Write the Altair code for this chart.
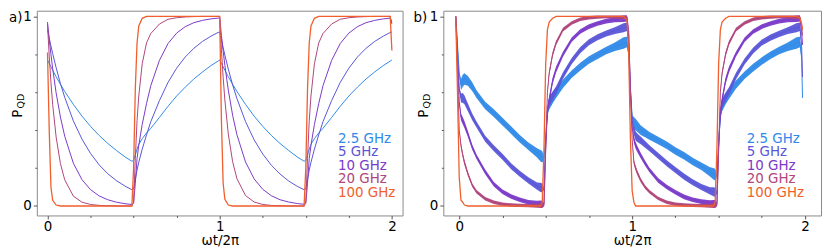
import altair as alt
import pandas as pd

FONT = "DejaVu Sans"

labels = ["2.5 GHz", "5 GHz", "10 GHz", "20 GHz", "100 GHz"]
colors = ["#2f8ae8", "#5a56d8", "#7b3ac8", "#b0467c", "#f05f2c"]

x_ticks = [0, 0.25, 0.5, 0.75, 1, 1.25, 1.5, 1.75, 2]
y_ticks = [0, 0.2, 0.4, 0.6, 0.8, 1]

# ---------------- panel a) ----------------
xa = [0, 0.01, 0.02, 0.03, 0.05, 0.075, 0.1, 0.15, 0.2, 0.25, 0.3, 0.35, 0.4, 0.45, 0.49, 0.5,
      0.51, 0.52, 0.53, 0.55, 0.575, 0.6, 0.65, 0.7, 0.75, 0.8, 0.85, 0.9, 0.95, 0.99,
      1.0, 1.01, 1.02, 1.03, 1.05, 1.075, 1.1, 1.15, 1.2, 1.25, 1.3, 1.35, 1.4, 1.45, 1.49, 1.5,
      1.51, 1.52, 1.53, 1.55, 1.575, 1.6, 1.65, 1.7, 1.75, 1.8, 1.85, 1.9, 1.95, 1.99, 2.0]

a_25 = [0.77, 0.752, 0.734, 0.716, 0.682, 0.642, 0.604, 0.536, 0.474, 0.42, 0.372, 0.33, 0.293, 0.259, 0.236, 0.24,
        0.27, 0.30, 0.325, 0.355, 0.385, 0.41, 0.467, 0.526, 0.58, 0.627, 0.67, 0.707, 0.741, 0.764,
        0.77, 0.752, 0.734, 0.716, 0.682, 0.642, 0.604, 0.536, 0.474, 0.42, 0.372, 0.33, 0.293, 0.259, 0.236, 0.24,
        0.27, 0.30, 0.325, 0.355, 0.385, 0.41, 0.467, 0.526, 0.58, 0.627, 0.67, 0.707, 0.741, 0.764, 0.77]
a_5 = [0.93, 0.886, 0.844, 0.804, 0.73, 0.646, 0.573, 0.449, 0.353, 0.277, 0.217, 0.17, 0.134, 0.105, 0.086, 0.09,
       0.14, 0.19, 0.23, 0.30, 0.375, 0.445, 0.556, 0.652, 0.727, 0.786, 0.832, 0.868, 0.896, 0.915,
       0.918, 0.876, 0.835, 0.796, 0.722, 0.639, 0.567, 0.445, 0.349, 0.274, 0.215, 0.169, 0.132, 0.104, 0.086, 0.09,
       0.14, 0.19, 0.23, 0.30, 0.375, 0.445, 0.556, 0.652, 0.727, 0.786, 0.832, 0.868, 0.896, 0.915, 0.918]
a_10 = [0.97, 0.88, 0.799, 0.725, 0.597, 0.469, 0.368, 0.226, 0.139, 0.086, 0.053, 0.033, 0.02, 0.012, 0.008, 0.015,
        0.12, 0.25, 0.32, 0.43, 0.54, 0.635, 0.768, 0.857, 0.912, 0.946, 0.967, 0.979, 0.987, 0.991,
        0.992, 0.9, 0.817, 0.742, 0.611, 0.479, 0.376, 0.232, 0.143, 0.088, 0.054, 0.033, 0.021, 0.013, 0.009, 0.015,
        0.12, 0.25, 0.32, 0.43, 0.54, 0.635, 0.768, 0.857, 0.912, 0.946, 0.967, 0.979, 0.987, 0.991, 0.97]
a_20 = [0.96, 0.791, 0.651, 0.536, 0.364, 0.224, 0.138, 0.052, 0.02, 0.008, 0.003, 0.001, 0.0, 0.0, 0.0, 0.02,
        0.25, 0.45, 0.58, 0.75, 0.86, 0.91, 0.96, 0.985, 0.993, 0.997, 0.999, 1.0, 1.0, 1.0,
        1.0, 0.824, 0.679, 0.559, 0.379, 0.234, 0.144, 0.055, 0.021, 0.008, 0.003, 0.001, 0.0, 0.0, 0.0, 0.02,
        0.25, 0.45, 0.58, 0.75, 0.86, 0.91, 0.96, 0.985, 0.993, 0.997, 0.999, 1.0, 1.0, 1.0, 0.96]
a_100 = [0.81, 0.4, 0.1, 0.03, 0.005, 0.0, 0.0, 0.0, 0.0, 0.0, 0.0, 0.0, 0.0, 0.0, 0.0, 0.2,
         0.62, 0.86, 0.95, 0.99, 1.0, 1.0, 1.0, 1.0, 1.0, 1.0, 1.0, 1.0, 1.0, 1.0,
         1.0, 0.45, 0.12, 0.035, 0.005, 0.0, 0.0, 0.0, 0.0, 0.0, 0.0, 0.0, 0.0, 0.0, 0.0, 0.2,
         0.62, 0.86, 0.95, 0.99, 1.0, 1.0, 1.0, 1.0, 1.0, 1.0, 1.0, 1.0, 1.0, 1.0, 0.82]

# ---------------- panel b) ----------------
xb = [-0.02, -0.01, 0.0, 0.01, 0.02, 0.03, 0.05, 0.075, 0.1, 0.15, 0.2, 0.25, 0.3, 0.35, 0.4, 0.45, 0.47, 0.48,
      0.49, 0.5, 0.51, 0.52, 0.54, 0.56, 0.6, 0.65, 0.7, 0.75, 0.8, 0.85, 0.9, 0.95, 0.97, 0.98, 0.99,
      1.0, 1.01, 1.02, 1.03, 1.05, 1.075, 1.1, 1.15, 1.2, 1.25, 1.3, 1.35, 1.4, 1.45, 1.47, 1.48, 1.49, 1.5,
      1.51, 1.52, 1.54, 1.56, 1.6, 1.65, 1.7, 1.75, 1.8, 1.85, 1.9, 1.95, 1.97, 1.98, 1.985]

b_25 = [1.0, 0.85, 0.70, 0.64, 0.66, 0.67, 0.66, 0.63, 0.59, 0.53, 0.49, 0.445, 0.40, 0.355, 0.315, 0.28, 0.265, 0.26,
        0.25, 0.35, 0.50, 0.54, 0.57, 0.595, 0.645, 0.695, 0.735, 0.77, 0.795, 0.82, 0.84, 0.86, 0.865, 0.8, 0.62,
        0.47, 0.44, 0.43, 0.42, 0.40, 0.385, 0.37, 0.345, 0.32, 0.29, 0.265, 0.235, 0.21, 0.18, 0.17, 0.165, 0.16, 0.33,
        0.48, 0.53, 0.565, 0.59, 0.64, 0.69, 0.73, 0.765, 0.795, 0.82, 0.84, 0.86, 0.865, 0.78, 0.57]
b_5 = [1.0, 0.82, 0.62, 0.57, 0.57, 0.56, 0.52, 0.47, 0.43, 0.355, 0.305, 0.26, 0.21, 0.17, 0.135, 0.105, 0.098, 0.095,
       0.09, 0.35, 0.5, 0.55, 0.58, 0.61, 0.688, 0.764, 0.822, 0.864, 0.89, 0.91, 0.925, 0.94, 0.945, 0.85, 0.6,
       0.45, 0.40, 0.37, 0.36, 0.345, 0.325, 0.305, 0.265, 0.225, 0.19, 0.155, 0.125, 0.10, 0.08, 0.075, 0.072, 0.07, 0.33,
       0.48, 0.54, 0.575, 0.605, 0.685, 0.762, 0.82, 0.862, 0.888, 0.908, 0.925, 0.94, 0.945, 0.84, 0.68]
b_10 = [1.0, 0.78, 0.55, 0.47, 0.45, 0.43, 0.38, 0.31, 0.26, 0.18, 0.115, 0.075, 0.05, 0.033, 0.02, 0.013, 0.011, 0.01,
        0.01, 0.3, 0.5, 0.56, 0.66, 0.72, 0.80, 0.877, 0.92, 0.946, 0.963, 0.975, 0.983, 0.989, 0.99, 0.9, 0.62,
        0.42, 0.35, 0.32, 0.30, 0.265, 0.225, 0.19, 0.135, 0.10, 0.072, 0.048, 0.033, 0.023, 0.016, 0.014, 0.013, 0.012, 0.3,
        0.5, 0.56, 0.66, 0.72, 0.80, 0.877, 0.92, 0.946, 0.963, 0.975, 0.983, 0.989, 0.99, 0.92, 0.85]
b_20 = [1.0, 0.7, 0.4, 0.32, 0.27, 0.23, 0.17, 0.11, 0.075, 0.038, 0.02, 0.01, 0.005, 0.003, 0.002, 0.001, 0.001, 0.001,
        0.001, 0.3, 0.6, 0.7, 0.8, 0.86, 0.93, 0.965, 0.985, 0.993, 0.997, 0.999, 0.999, 0.999, 0.999, 0.92, 0.6,
        0.35, 0.23, 0.2, 0.175, 0.135, 0.10, 0.075, 0.04, 0.02, 0.01, 0.005, 0.003, 0.002, 0.001, 0.001, 0.001, 0.001, 0.3,
        0.6, 0.7, 0.8, 0.86, 0.93, 0.965, 0.985, 0.993, 0.997, 0.999, 0.999, 0.999, 0.999, 0.95, 0.9]
b_100 = [1.0, 0.6, 0.15, 0.03, 0.02, 0.005, 0.0, 0.0, 0.0, 0.0, 0.0, 0.0, 0.0, 0.0, 0.0, 0.0, 0.0, 0.02,
         0.3, 0.75, 0.93, 0.97, 0.99, 1.0, 1.0, 1.0, 1.0, 1.0, 1.0, 1.0, 1.0, 1.0, 0.98, 0.8, 0.35,
         0.08, 0.02, 0.0, 0.0, 0.0, 0.0, 0.0, 0.0, 0.0, 0.0, 0.0, 0.0, 0.0, 0.0, 0.0, 0.02, 0.3, 0.75,
         0.93, 0.97, 0.99, 1.0, 1.0, 1.0, 1.0, 1.0, 1.0, 1.0, 1.0, 1.0, 0.99, 0.96, 0.93]

# oscillation envelope (relative band half-width) and base half-widths of the fast oscillation bands
b_ring = [0, 0, 0.4, 1.5, 1.6, 1.5, 1.3, 1.15, 1.0, 1.0, 1.0, 1.0, 1.0, 1.0, 1.0, 1.2, 1.5, 1.5,
          0.4, 0, 1.2, 1.6, 1.5, 1.3, 1.1, 1.0, 1.0, 1.0, 1.0, 1.0, 1.1, 1.5, 1.4, 0.3, 0,
          0.4, 1.5, 1.5, 1.4, 1.25, 1.1, 1.0, 1.0, 1.0, 1.0, 1.0, 1.0, 1.0, 1.2, 1.5, 1.5, 0.4, 0,
          1.2, 1.6, 1.5, 1.3, 1.1, 1.0, 1.0, 1.0, 1.0, 1.0, 1.1, 1.5, 1.4, 0.3, 0]
b_halfwidth = [0.02, 0.016, 0.012, 0.009]

a_series = [a_25, a_5, a_10, a_20, a_100]
b_series = [b_25, b_5, b_10, b_20, b_100]

PLOT_H = 206
Y_DOM = [-0.05, 1.03]
AX_FS = 13.5


def x_enc(dom):
    return alt.X(
        "x:Q",
        scale=alt.Scale(domain=dom, nice=False, zero=False),
        axis=alt.Axis(
            values=x_ticks, title="ωt/2π", grid=False, domain=False,
            labelExpr="datum.value % 1 == 0 ? format(datum.value, 'd') : ''",
            tickSize={"condition": {"test": "datum.value % 1 == 0", "value": 3.5}, "value": 2},
            tickColor="#555555", labelColor="black", labelFont=FONT, labelFontSize=AX_FS,
            titleFont=FONT, titleFontSize=AX_FS, titleFontWeight="normal", titleColor="black",
            labelPadding=1, titlePadding=0, labelFlush=False, labelOverlap=False,
        ),
    )


def y_enc(field):
    return alt.Y(
        field + ":Q",
        scale=alt.Scale(domain=Y_DOM, nice=False, zero=False),
        axis=alt.Axis(
            values=y_ticks, title=None, grid=False, domain=False,
            labelExpr="datum.value % 1 == 0 ? format(datum.value, 'd') : ''",
            tickSize={"condition": {"test": "datum.value % 1 == 0", "value": 3.5}, "value": 2},
            tickColor="#555555", labelColor="black", labelFont=FONT, labelFontSize=AX_FS,
            labelPadding=2, labelFlush=False, labelOverlap=False,
        ),
    )


def txt(t, x, y, **kw):
    return alt.Chart(pd.DataFrame({"t": [t]})).mark_text(font=FONT, **kw).encode(
        text="t:N", x=alt.value(x), y=alt.value(y)
    )


def build_panel(tag, xs, series, xdom, width, tag_x, p_x, legend_x, band):
    X = x_enc(xdom)
    layers = []
    for i in range(len(labels)):
        vals = series[i]
        df = pd.DataFrame({"x": xs, "y": vals})
        if band and i < 4:
            hw = [b_halfwidth[i] * r for r in b_ring]
            df["lo"] = [max(v - h, -0.01) for v, h in zip(vals, hw)]
            df["hi"] = [min(v + h, 1.005) for v, h in zip(vals, hw)]
            layers.append(
                alt.Chart(df).mark_area(color=colors[i], opacity=0.95).encode(
                    x=X, y=y_enc("lo"), y2="hi:Q"
                )
            )
        sw = 1.3 if i == 4 else 1.0
        layers.append(
            alt.Chart(df).mark_line(color=colors[i], strokeWidth=sw).encode(x=X, y=y_enc("y"))
        )
    layers.append(txt(tag, tag_x, 0, align="left", baseline="top", fontSize=13.5, color="black"))
    layers.append(txt("P", p_x, 103.5, angle=270, align="center", baseline="middle",
                      fontSize=13.5, color="black"))
    layers.append(txt("QD", p_x + 3.5, 91, angle=270, align="center", baseline="middle",
                      fontSize=9.5, color="black"))
    for i, lab in enumerate(labels):
        layers.append(txt(lab, legend_x, 129 + 13.5 * i, align="left", baseline="middle",
                          fontSize=13.5, color=colors[i]))
    return alt.layer(*layers).properties(width=width, height=PLOT_H)


pa = build_panel("a)", xa, a_series, [-0.062, 2.062], 368, -28, -19, 303, False)
pb = build_panel("b)", xb, b_series, [-0.092, 2.092], 380, -30, -19.5, 305.3, True)

chart = (
    alt.hconcat(pa, pb, spacing=9)
    .properties(padding=0, background="white")
    .configure_view(stroke="#8a8a8a", strokeWidth=1)
)

chart.save("out.html", embed_options={"renderer": "svg", "actions": False})
